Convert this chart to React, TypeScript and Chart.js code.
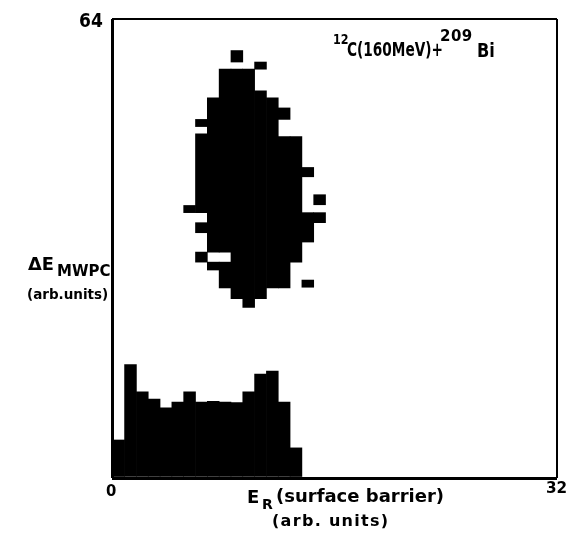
import React, { useEffect, useRef } from "react";
import { Chart, registerables } from "chart.js";
Chart.register(...registerables);

// ---- axes ----
const X_MIN = 0;
const X_MAX = 32;
const Y_MIN = 0;
const Y_MAX = 64;
const X_TICKS = [0, 32];
const Y_TICKS = [0, 64];
const X_TICK_LABELS = ["0", "32"];
const Y_TICK_LABELS = ["64"];

// ---- channel centres along E_R ----
const CHANNELS = [0.48, 1.33, 2.18, 3.03, 3.88, 4.73, 5.58, 6.43, 7.28, 8.13, 8.98, 9.83, 10.68, 11.53, 12.38, 13.23, 14.08, 14.93];

// ---- lower band: channels 0..15, filled from 0 up to the top ----
const BAND_TOPS = [5.3, 15.8, 12, 11, 9.8, 10.6, 12, 10.6, 10.7, 10.6, 10.5, 12, 14.5, 14.9, 10.6, 4.2];

// ---- upper blob: vertical runs (channel index, low, high) ----
const BLOB_CH = [6, 7, 7, 7, 7, 8, 8, 9, 9, 10, 10, 11, 12, 12, 13, 14, 14, 15, 16, 16, 16, 17, 17];
const BLOB_LO = [37, 30.1, 34.2, 37, 49, 29, 31.5, 26.5, 31.5, 25, 58, 23.8, 25, 57, 26.5, 26.5, 50, 30.1, 26.6, 32.9, 42, 35.6, 38.1];
const BLOB_HI = [38, 31.5, 35.6, 48, 50, 30.1, 53, 30.1, 57, 57, 59.6, 57, 54, 58, 53, 47.6, 51.6, 47.6, 27.6, 37, 43.3, 37, 39.5];

const FONT = "'DejaVu Sans', 'Noto Sans', sans-serif";

type LabelProps = {
  left: number;
  top: number;
  size: number;
  sx?: number;
  ls?: number;
  children: React.ReactNode;
};

function Label({ left, top, size, sx = 1, ls = 0, children }: LabelProps) {
  return (
    <span
      style={{
        position: "absolute",
        left,
        top,
        fontFamily: FONT,
        fontWeight: 700,
        fontSize: size,
        lineHeight: 1,
        letterSpacing: ls,
        whiteSpace: "nowrap",
        color: "#000",
        transform: `scaleX(${sx})`,
        transformOrigin: "left top",
      }}
    >
      {children}
    </span>
  );
}

export default function App() {
  const canvasRef = useRef<HTMLCanvasElement | null>(null);

  useEffect(() => {
    if (!canvasRef.current) return;
    const band = BAND_TOPS.map((t, i) => ({ x: CHANNELS[i], y: [0, t] }));
    const blob = BLOB_CH.map((c, i) => ({ x: CHANNELS[c], y: [BLOB_LO[i], BLOB_HI[i]] }));
    const frameWidth = (ctx: any) => (ctx.tick && ctx.tick.value === 0 ? 3 : 2);
    const chart = new Chart(canvasRef.current, {
      type: "bar",
      data: {
        datasets: [
          { label: "band", data: band as any, backgroundColor: "#000", borderWidth: 0, grouped: false, barPercentage: 1, categoryPercentage: 1 },
          { label: "blob", data: blob as any, backgroundColor: "#000", borderWidth: 0, grouped: false, barPercentage: 1, categoryPercentage: 1 },
        ],
      },
      options: {
        animation: false,
        responsive: true,
        maintainAspectRatio: false,
        layout: { padding: { left: 112, right: 17, top: 19, bottom: 58 } },
        plugins: { legend: { display: false }, tooltip: { enabled: false }, title: { display: false } },
        scales: {
          x: {
            type: "linear",
            min: X_MIN,
            max: X_MAX,
            offset: false,
            afterBuildTicks: (s: any) => {
              s.ticks = X_TICKS.map((v) => ({ value: v }));
            },
            ticks: { display: false },
            border: { display: false },
            grid: { color: "#000", lineWidth: frameWidth, drawTicks: false, offset: false },
          },
          y: {
            type: "linear",
            min: Y_MIN,
            max: Y_MAX,
            afterBuildTicks: (s: any) => {
              s.ticks = Y_TICKS.map((v) => ({ value: v }));
            },
            ticks: { display: false },
            border: { display: false },
            grid: { color: "#000", lineWidth: frameWidth, drawTicks: false, offset: false },
          },
        },
      },
    });
    return () => chart.destroy();
  }, []);

  return (
    <div style={{ position: "fixed", left: 0, top: 0, width: 574, height: 536, background: "#fff" }}>
      <canvas ref={canvasRef} />
      {/* tick labels */}
      <Label left={79} top={11} size={19} sx={0.9}>{Y_TICK_LABELS[0]}</Label>
      <Label left={106} top={483} size={16.5} sx={0.9}>{X_TICK_LABELS[0]}</Label>
      <Label left={546} top={480} size={16} sx={0.95}>{X_TICK_LABELS[1]}</Label>
      {/* title */}
      <Label left={333} top={32} size={14} sx={0.8}>12</Label>
      <Label left={347} top={40} size={19} sx={0.72}>C(160MeV)+</Label>
      <Label left={440} top={29} size={15} sx={1} ls={0.5}>209</Label>
      <Label left={477} top={41} size={19} sx={0.85}>Bi</Label>
      {/* y label */}
      <Label left={28} top={256} size={17} sx={1.05}>ΔE</Label>
      <Label left={57} top={264} size={15}>MWPC</Label>
      <Label left={27} top={288} size={13.5}>(arb.units)</Label>
      {/* x label */}
      <Label left={247} top={488} size={18}>E</Label>
      <Label left={262} top={497} size={14}>R</Label>
      <Label left={276} top={487} size={18}>(surface barrier)</Label>
      <Label left={272} top={513} size={16} ls={1.3}>(arb. units)</Label>
    </div>
  );
}
